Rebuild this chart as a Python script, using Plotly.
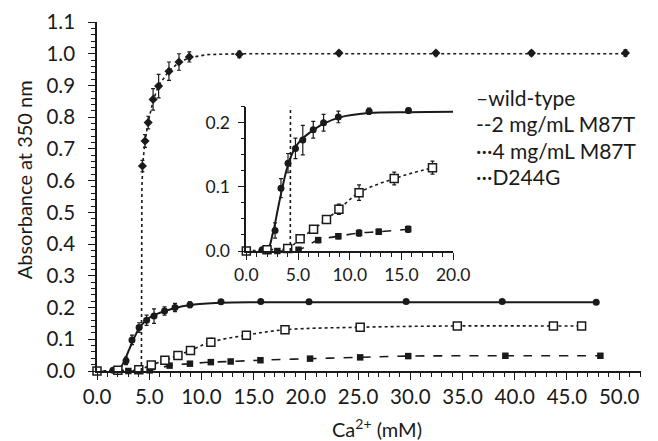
import plotly.graph_objects as go

# ---------------- data ----------------
wt_x = [1.53, 2.78, 3.35, 4.03, 4.75, 5.46, 6.47, 7.47, 8.9, 11.87, 15.68, 20.3, 29.6, 38.8, 47.8]
wt_y = [0.002, 0.032, 0.098, 0.137, 0.160, 0.173, 0.189, 0.200, 0.209, 0.218, 0.219, 0.218, 0.219, 0.219, 0.217]
wt_err = [0.003, 0.012, 0.015, 0.015, 0.016, 0.023, 0.013, 0.013, 0.009, 0.005, 0.004, 0.003, 0.003, 0.003, 0.003]
wt_fit_x = [0.0, 1.94, 2.56, 3.03, 3.5, 3.97, 4.59, 5.22, 6.16, 7.4, 8.97, 11.8, 15.8, 20.0, 30.0, 47.8]
wt_fit_y = [0.0, 0.0, 0.0275, 0.064, 0.100, 0.131, 0.157, 0.172, 0.185, 0.198, 0.208, 0.215, 0.2165, 0.217, 0.217, 0.217]

m2_x = [3.0, 5.05, 6.95, 8.9, 10.9, 12.8, 15.65, 20.4, 25.2, 29.8, 39.1, 48.2]
m2_y = [0.0, 0.002, 0.017, 0.023, 0.028, 0.030, 0.034, 0.039, 0.043, 0.047, 0.048, 0.048]
m2_err = [0.002, 0.003, 0.004, 0.004, 0.005, 0.004, 0.005, 0.004, 0.004, 0.003, 0.003, 0.004]

m4_x = [0.0, 2.0, 4.0, 5.2, 6.5, 7.75, 8.95, 10.9, 14.3, 18.0, 25.2, 34.5, 43.7, 46.4]
m4_y = [0.0, 0.002, 0.004, 0.019, 0.034, 0.049, 0.065, 0.091, 0.113, 0.130, 0.138, 0.142, 0.142, 0.142]
m4_err = [0.001, 0.002, 0.002, 0.003, 0.005, 0.006, 0.008, 0.012, 0.010, 0.010, 0.004, 0.003, 0.003, 0.003]

d_x = [4.35, 4.6, 4.9, 5.37, 5.9, 6.89, 7.85, 8.84, 13.63, 23.17, 32.45, 41.6, 50.6]
d_y = [0.646, 0.725, 0.783, 0.856, 0.898, 0.945, 0.974, 0.990, 0.998, 1.002, 1.002, 1.002, 1.002]
d_err = [0.018, 0.020, 0.020, 0.034, 0.037, 0.029, 0.026, 0.016, 0.010, 0.008, 0.008, 0.008, 0.010]
d_fit_x = [4.25, 4.27, 4.3, 4.4, 4.6, 4.9, 5.4, 5.9, 6.9, 7.9, 8.9, 10.5, 13.6, 50.6]
d_fit_y = [0.0, 0.4, 0.58, 0.66, 0.725, 0.785, 0.855, 0.9, 0.946, 0.974, 0.988, 0.997, 1.0, 1.0]

legend_labels = ["\u2013wild-type", "--2 mg/mL M87T", "\u00b7\u00b7\u00b74 mg/mL M87T", "\u00b7\u00b7\u00b7D244G"]

FONT = "Lato"
INK = "#1a1a1a"

fig = go.Figure()

def err(a):
    return dict(type="data", array=a, visible=True, color=INK, thickness=1.2, width=2)

def add_series(inset):
    xs = "x2" if inset else "x"
    ys = "y2" if inset else "y"
    lim = 20.0 if inset else 1e9
    def f(x, y, e=None):
        idx = [i for i, v in enumerate(x) if v <= lim]
        xx = [x[i] for i in idx]
        yy = [y[i] for i in idx]
        ee = [e[i] for i in idx] if e is not None else None
        return xx, yy, ee
    # wild-type
    fx, fy, _ = f(wt_fit_x, wt_fit_y)
    fig.add_trace(go.Scatter(x=fx, y=fy, mode="lines", line=dict(color=INK, width=2, shape="spline"),
                             xaxis=xs, yaxis=ys, showlegend=False, hoverinfo="skip"))
    px_, py_, pe = f(wt_x, wt_y, wt_err)
    fig.add_trace(go.Scatter(x=px_, y=py_, mode="markers", error_y=err(pe),
                             marker=dict(symbol="circle", size=7, color=INK),
                             xaxis=xs, yaxis=ys, showlegend=False, cliponaxis=False))
    # 2 mg/mL
    px_, py_, pe = f(m2_x, m2_y, m2_err)
    fig.add_trace(go.Scatter(x=px_, y=py_, mode="lines+markers", error_y=err(pe),
                             line=dict(color=INK, width=1.6, dash="dash", shape="spline"),
                             marker=dict(symbol="square", size=6.5, color=INK),
                             xaxis=xs, yaxis=ys, showlegend=False, cliponaxis=False))
    # 4 mg/mL
    px_, py_, pe = f(m4_x, m4_y, m4_err)
    fig.add_trace(go.Scatter(x=px_, y=py_, mode="lines+markers", error_y=err(pe),
                             line=dict(color=INK, width=1.6, dash="dot", shape="spline"),
                             marker=dict(symbol="square", size=8, color="white",
                                         line=dict(color=INK, width=1.5)),
                             xaxis=xs, yaxis=ys, showlegend=False, cliponaxis=False))
    # D244G
    fx, fy, _ = f(d_fit_x, d_fit_y)
    fig.add_trace(go.Scatter(x=fx, y=fy, mode="lines", line=dict(color=INK, width=1.6, dash="dot"),
                             xaxis=xs, yaxis=ys, showlegend=False, hoverinfo="skip"))
    if not inset:
        fig.add_trace(go.Scatter(x=d_x, y=d_y, mode="markers", error_y=err(d_err),
                                 marker=dict(symbol="diamond", size=7, color=INK),
                                 xaxis=xs, yaxis=ys, showlegend=False, cliponaxis=False))

add_series(False)
add_series(True)

W, H = 658, 441
L, R, T, B = 97, 0, 22, 70
pw, ph = W - L - R, H - T - B

def px2x(p):
    return (p - L) / pw

def py2y(p):
    return (H - B - p) / ph

axis_common = dict(showline=True, linecolor=INK, linewidth=1.6, ticks="outside", tickcolor=INK,
                   tickwidth=1.4, showgrid=False, zeroline=False, color=INK)

fig.update_layout(
    width=W, height=H, margin=dict(l=L, r=R, t=T, b=B),
    paper_bgcolor="white", plot_bgcolor="white",
    font=dict(family=FONT, size=20, color=INK),
    xaxis=dict(range=[0, (W - L) / 10.77], dtick=5, tick0=0, tickformat=".1f", ticklen=7,
               tickfont=dict(size=20.5),
               minor=dict(dtick=1, ticklen=4, ticks="outside", tickcolor=INK, tickwidth=1.2),
               domain=[0, 1], **axis_common),
    yaxis=dict(range=[0, 1.1], dtick=0.1, tick0=0, tickformat=".1f", ticklen=7,
               tickfont=dict(size=20.5), ticklabelstandoff=9,
               minor=dict(dtick=0.02, ticklen=4, ticks="outside", tickcolor=INK, tickwidth=1.2),
               domain=[0, 1], **axis_common),
    xaxis2=dict(range=[0, 20], dtick=5, tick0=0, tickformat=".1f", ticklen=7,
                minor=dict(dtick=1, ticklen=4, ticks="outside", tickcolor=INK, tickwidth=1.2),
                domain=[px2x(251), px2x(464.3)], anchor="y2",
                tickfont=dict(size=17.5), **axis_common),
    yaxis2=dict(range=[0, 0.225], dtick=0.1, tick0=0, tickformat=".1f", ticklen=7,
                ticklabelstandoff=4,
                minor=dict(dtick=0.025, ticklen=4, ticks="outside", tickcolor=INK, tickwidth=1.2),
                domain=[py2y(251), py2y(106.7)], anchor="x2",
                tickfont=dict(size=17.5), **axis_common),
)

ann = []
ann.append(dict(text="Absorbance at 350 nm", x=px2x(22), y=py2y(180), xref="paper", yref="paper",
                textangle=-90, showarrow=False, xanchor="center", yanchor="middle",
                font=dict(size=20, family=FONT, color=INK)))
ann.append(dict(text="Ca<sup>2+</sup> (mM)", x=px2x(386), y=py2y(428), xref="paper", yref="paper",
                showarrow=False, xanchor="center", yanchor="middle",
                font=dict(size=20, family=FONT, color=INK)))
for lab, yy in zip(legend_labels, [97, 124, 150, 176]):
    ann.append(dict(text=lab, x=px2x(486), y=py2y(yy), xref="paper", yref="paper",
                    showarrow=False, xanchor="left", yanchor="middle",
                    font=dict(size=21, family=FONT, color=INK)))
fig.update_layout(annotations=ann)

fig.write_html("out.html")
